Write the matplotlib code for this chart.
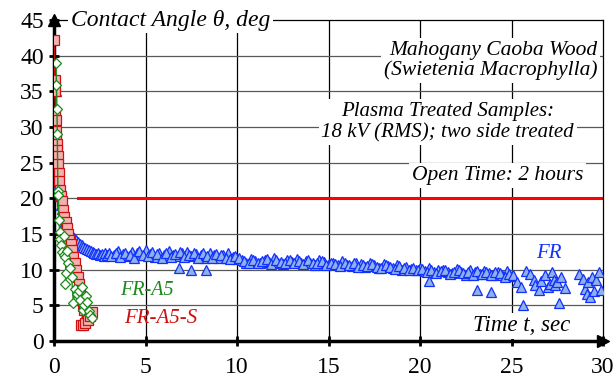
import matplotlib.pyplot as plt

plt.rcParams['font.family'] = 'serif'
plt.rcParams['font.serif'] = ['Liberation Serif', 'DejaVu Serif']

# FR-A5-S (red squares)
a5s_t = [0.00, 0.03, 0.05, 0.07, 0.09, 0.10, 0.12, 0.14, 0.16, 0.18, 0.20, 0.24, 0.28,
         0.32, 0.35, 0.42, 0.50, 0.56, 0.62, 0.68, 0.75, 0.82, 0.90, 0.97, 1.05, 1.12,
         1.20, 1.28, 1.35, 1.42, 1.50, 1.56, 1.62, 1.45, 1.55, 1.70, 1.85, 1.98, 2.08]
a5s_y = [42.2, 36.6, 35.0, 31.9, 31.0, 29.5, 28.5, 27.6, 26.8, 25.9, 24.8, 23.5, 22.4,
         21.2, 20.3, 19.6, 18.3, 17.4, 16.7, 15.9, 15.0, 14.2, 13.6, 12.8, 11.8, 10.9,
         10.0, 9.0, 8.0, 7.1, 5.7, 4.9, 4.3, 2.3, 2.2, 2.5, 2.9, 3.5, 4.0]

# FR-A5 (green diamonds)
a5_t = [0.10, 0.12, 0.15, 0.17, 0.20, 0.22, 0.26, 0.30, 0.34, 0.38, 0.45, 0.52,
        0.56, 0.60, 0.66, 0.72, 0.60, 0.78, 0.88, 0.95, 1.05, 1.14, 1.22, 1.33,
        1.40, 1.50, 1.58, 1.65, 1.72, 1.80, 1.88, 1.95, 2.06]
a5_y = [39.0, 35.9, 32.5, 29.0, 21.0, 20.5, 17.0, 15.3, 14.3, 13.5, 12.5, 12.0,
        14.7, 11.8, 9.5, 12.6, 8.0, 11.0, 10.2, 9.0, 5.3, 7.3, 6.6, 7.0,
        5.8, 7.6, 4.3, 5.0, 6.3, 5.4, 4.2, 3.7, 3.2]

# FR (blue triangles)
fr_t = [0.10, 0.12, 0.18, 0.22, 0.27, 0.30, 0.38, 0.45, 0.52, 0.60, 0.68, 0.78,
        0.88, 1.00, 1.10, 1.20, 1.30, 1.40, 1.50, 1.60, 1.70, 1.80, 1.90, 2.00,
        2.10, 2.20, 2.30, 2.40, 2.50, 2.60, 2.70, 2.80, 2.90,
        3.00, 3.25, 3.50, 3.75, 4.00, 4.25, 4.50, 4.75, 5.00, 5.25, 5.50, 5.75,
        6.00, 6.25, 6.50, 6.75, 7.00, 7.25, 7.50, 7.75, 8.00, 8.25, 8.50, 8.75,
        9.00, 9.25, 9.50, 9.75, 10.00,
        3.12, 3.37, 3.62, 3.87, 4.12, 4.37, 4.62, 4.87, 5.12, 5.37, 5.62, 5.87,
        6.12, 6.37, 6.62, 6.87, 7.12, 7.37, 7.62, 7.87, 8.12, 8.37, 8.62, 8.87,
        9.12, 9.37, 9.62, 9.87,
        6.80, 7.50, 8.30,
        10.25, 10.50, 10.75, 11.00, 11.25, 11.50, 11.75, 12.00, 12.25, 12.50,
        12.75, 13.00, 13.25, 13.50, 13.75, 14.00, 14.25, 14.50, 14.75, 15.00,
        10.12, 10.37, 10.62, 10.87, 11.12, 11.37, 11.62, 11.87, 12.12, 12.37,
        12.62, 12.87, 13.12, 13.37, 13.62, 13.87, 14.12, 14.37, 14.62, 14.87,
        15.25, 15.50, 15.75, 16.00, 16.25, 16.50, 16.75, 17.00, 17.25, 17.50,
        17.75, 18.00, 18.25, 18.50, 18.75, 19.00, 19.25, 19.50, 19.75, 20.00,
        15.12, 15.37, 15.62, 15.87, 16.12, 16.37, 16.62, 16.87, 17.12, 17.37,
        17.62, 17.87, 18.12, 18.37, 18.62, 18.87, 19.12, 19.37, 19.62, 19.87,
        20.25, 20.50, 20.75, 21.00, 21.25, 21.50, 21.75, 22.00, 22.25, 22.50,
        22.75, 23.00, 23.25, 23.50, 23.75, 24.00, 24.25, 24.50, 24.75, 25.00,
        20.12, 20.37, 20.62, 20.87, 21.12, 21.37, 21.62, 21.87, 22.12, 22.37,
        22.62, 22.87, 23.12, 23.37, 23.62, 23.87, 24.12, 24.37, 24.62, 24.87,
        20.50, 23.10, 23.90,
        25.10, 25.30, 25.50, 25.60, 25.80, 26.00, 26.20, 26.30, 26.50, 26.60,
        26.80, 27.00, 27.10, 27.20, 27.30, 27.40, 27.50, 27.60, 27.70, 27.90,
        28.70, 28.90, 29.00, 29.10, 29.20, 29.30, 29.40, 29.50, 29.60, 29.80, 29.90]
fr_y = [35.0, 26.8, 23.0, 22.0, 21.0, 20.3, 19.0, 18.5, 17.5, 16.8, 16.2, 15.5,
        15.0, 14.6, 14.4, 14.1, 13.9, 13.6, 13.4, 13.2, 13.0, 12.9, 12.7, 12.6,
        12.5, 12.4, 12.2, 12.3, 12.0, 12.2, 11.9, 12.4, 12.1,
        12.4, 12.1, 12.6, 12.2, 11.9, 12.5, 12.3, 12.0, 12.7, 12.2, 11.8, 12.4,
        12.1, 12.6, 12.0, 11.9, 12.3, 12.5, 11.9, 12.2, 12.0, 11.7, 12.4, 12.1,
        11.6, 12.0, 12.3, 11.8, 11.5,
        11.9, 12.3, 11.8, 12.4, 12.0, 11.7, 12.6, 12.1, 11.9, 12.5, 12.2, 11.7,
        12.4, 11.8, 12.2, 12.5, 11.8, 12.1, 12.4, 11.7, 12.3, 11.9, 11.6, 12.2,
        12.0, 11.7, 11.5, 11.9,
        10.2, 9.9, 9.9,
        11.3, 11.0, 11.5, 11.2, 10.9, 11.4, 11.1, 11.6, 11.0, 10.8,
        11.3, 11.1, 11.5, 10.9, 11.2, 11.0, 10.7, 11.3, 11.1, 10.8,
        11.6, 11.2, 10.9, 11.4, 11.0, 11.2, 11.5, 10.8, 11.3, 11.1,
        10.9, 11.4, 11.0, 11.2, 10.8, 11.3, 11.0, 10.9, 11.2, 10.7,
        10.9, 10.6, 11.2, 10.7, 10.5, 11.0, 10.8, 10.4, 10.9, 10.6,
        10.3, 10.8, 10.5, 10.2, 10.6, 10.0, 10.4, 10.1, 9.9, 10.3,
        11.0, 10.8, 10.5, 11.0, 10.6, 10.9, 10.4, 10.7, 10.5, 10.8,
        10.4, 10.2, 10.7, 10.4, 10.1, 10.5, 10.2, 9.9, 10.3, 10.0,
        9.8, 10.2, 9.6, 9.9, 10.0, 9.7, 9.5, 10.1, 9.6, 9.3,
        9.9, 9.7, 9.4, 9.8, 9.5, 9.2, 9.6, 9.3, 9.8, 9.1,
        10.1, 9.7, 9.9, 9.5, 9.8, 10.0, 9.4, 9.7, 9.9, 9.5,
        9.6, 9.2, 9.8, 9.4, 9.6, 9.3, 9.7, 9.5, 9.0, 9.4,
        8.4, 7.1, 6.9,
        9.3, 8.2, 7.6, 5.0, 9.8, 9.4, 8.6, 7.9, 7.2, 8.4,
        9.2, 7.5, 8.0, 9.6, 8.6, 7.8, 8.3, 5.3, 9.0, 7.4,
        9.4, 8.7, 7.3, 6.6, 8.2, 6.2, 9.0, 7.0, 8.5, 9.6, 7.2]

x_ticks = [0, 5, 10, 15, 20, 25, 30]
y_ticks = [0, 5, 10, 15, 20, 25, 30, 35, 40, 45]

fig = plt.figure(figsize=(6.16, 3.78), dpi=100)
ax = fig.add_axes([0.088, 0.098, 0.891, 0.849])
ax.set_xlim(0, 30)
ax.set_ylim(0, 45)

for v in x_ticks[1:-1]:
    ax.axvline(v, color='black', lw=0.9, zorder=1)
for v in y_ticks[1:-1]:
    ax.axhline(v, color='0.35', lw=0.9, zorder=1)

ax.plot([1.3, 30], [20, 20], color='#ff0000', lw=2.2, zorder=2)

ax.plot(fr_t, fr_y, linestyle='none', marker='^', ms=7, mfc='#8fb0e8',
        mec='#1030ff', mew=0.9, zorder=3)
ax.plot(a5s_t, a5s_y, color='#d01010', lw=1.2, marker='s', ms=7.5,
        mfc='#f2b0b0', mec='#d01010', mew=0.9, zorder=4)
ax.plot(a5_t, a5_y, color='#1a8a1a', lw=1.0, marker='D', ms=5,
        mfc='white', mec='#1a8a1a', mew=0.9, zorder=5)

for s in ['left', 'bottom']:
    ax.spines[s].set_linewidth(2.5)
for s in ['top', 'right']:
    ax.spines[s].set_linewidth(0.9)

ax.plot(0, 1, marker='^', color='black', ms=9, transform=ax.transAxes, clip_on=False, zorder=6)
ax.plot(1, 0, marker='>', color='black', ms=9, transform=ax.transAxes, clip_on=False, zorder=6)

ax.set_xticks(x_ticks)
ax.set_yticks(y_ticks)
ax.tick_params(direction='inout', length=7, width=2, labelsize=17, pad=4)
ax.tick_params(axis='x', pad=8)

box = dict(facecolor='white', edgecolor='none', pad=2)
ax.text(0.9, 45, 'Contact Angle θ, deg', fontsize=17, style='italic',
        ha='left', va='center', bbox=box, zorder=7)
ax.text(29.7, 39.3, 'Mahogany Caoba Wood\n(Swietenia Macrophylla)', fontsize=15.5,
        style='italic', ha='right', va='center', linespacing=1.05, bbox=box, zorder=7)
ax.text(21.5, 30.7, 'Plasma Treated Samples:\n18 kV (RMS); two side treated', fontsize=15,
        style='italic', ha='center', va='center', linespacing=1.15, bbox=box, zorder=7)
ax.text(28.9, 23.2, 'Open Time: 2 hours', fontsize=15.5, style='italic',
        ha='right', va='center', bbox=box, zorder=7)
ax.text(28.2, 2.1, 'Time t, sec', fontsize=16.5, style='italic',
        ha='right', va='center', bbox=box, zorder=7)
ax.text(27.75, 12.3, 'FR', fontsize=15, style='italic', color='#1030ff',
        ha='right', va='center', zorder=7)
ax.text(5.05, 7.1, 'FR-A5', fontsize=14.5, style='italic', color='#1a8a1a',
        ha='center', va='center', zorder=7)
ax.text(5.8, 3.2, 'FR-A5-S', fontsize=15, style='italic', color='#d01010',
        ha='center', va='center', zorder=7)

plt.savefig('out.png', dpi=100)
